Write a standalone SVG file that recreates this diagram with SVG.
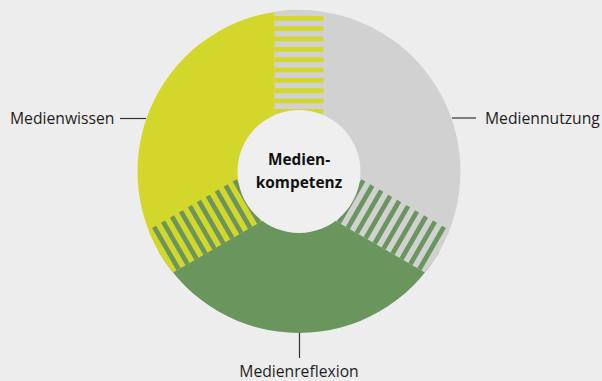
<svg xmlns="http://www.w3.org/2000/svg" xmlns:xlink="http://www.w3.org/1999/xlink" width="602" height="381" viewBox="0 0 602 381">
  <style>
    .lbl { font-family: "Open Sans", "Noto Sans", "Liberation Sans", sans-serif; font-size: 15.7px; fill: #1e1e1e; }
    .ctr { font-family: "Open Sans", "Noto Sans", "Liberation Sans", sans-serif; font-size: 15.4px; font-weight: bold; fill: #111; text-anchor: middle; }
    .lead { stroke: #333; stroke-width: 1.2; fill: none; }
    .yel { fill: #d4d72b; }
    .gry { fill: #d1d1d1; }
    .grn { fill: #6a965d; }
  </style>
  <defs>
    <clipPath id="outer">
      <circle cx="299" cy="171.5" r="161.5"/>
    </clipPath>
    <g id="stripes">
      <rect x="274.5" y="16" width="49" height="4.7"/>
      <rect x="274.5" y="26.33" width="49" height="4.7"/>
      <rect x="274.5" y="36.66" width="49" height="4.7"/>
      <rect x="274.5" y="47" width="49" height="4.7"/>
      <rect x="274.5" y="57.33" width="49" height="4.7"/>
      <rect x="274.5" y="67.66" width="49" height="4.7"/>
      <rect x="274.5" y="78" width="49" height="4.7"/>
      <rect x="274.5" y="88.33" width="49" height="4.7"/>
      <rect x="274.5" y="98.66" width="49" height="4.7"/>
      <rect x="274.5" y="109" width="49" height="4.7"/>
    </g>
  </defs>
  <rect width="602" height="381" fill="#ededed"/>

  <g id="medienwissen">
    <path class="yel" d="M299,171.5 L299,10 A161.5,161.5 0 0 0 159.14,252.25 Z"/>
    <text class="lbl" x="10" y="124">Medienwissen</text>
  </g>
  <g id="mediennutzung">
    <path class="gry" d="M299,171.5 L299,10 A161.5,161.5 0 0 1 438.86,252.25 Z"/>
    <text class="lbl" x="485" y="124">Mediennutzung</text>
  </g>
  <g id="medienreflexion">
    <path class="grn" d="M299,171.5 L438.86,252.25 A161.5,161.5 0 0 1 159.14,252.25 Z"/>
    <text class="lbl" x="299" y="377" text-anchor="middle">Medienreflexion</text>
  </g>

  <g id="transitions" clip-path="url(#outer)">
    <g id="band-top">
      <rect class="gry" x="274.5" y="5" width="49" height="166.5"/>
      <use xlink:href="#stripes" class="yel"/>
    </g>
    <g id="band-right" transform="rotate(120 299 171.5)">
      <rect class="gry" x="274.5" y="5" width="49" height="166.5"/>
      <use xlink:href="#stripes" class="grn"/>
    </g>
    <g id="band-left" transform="rotate(240 299 171.5)">
      <rect class="yel" x="274.5" y="5" width="49" height="166.5"/>
      <use xlink:href="#stripes" class="grn"/>
    </g>
  </g>

  <g id="medienkompetenz">
    <circle cx="299" cy="171.5" r="61.5" fill="#efefef"/>
    <text class="ctr" x="299" y="165">Medien-</text>
    <text class="ctr" x="299" y="188">kompetenz</text>
  </g>

  <g id="connectors">
    <line class="lead" x1="120" y1="118.5" x2="146" y2="118.5"/>
    <line class="lead" x1="452" y1="118" x2="476" y2="118"/>
    <line class="lead" x1="299.5" y1="333" x2="299.5" y2="358"/>
  </g>
</svg>
